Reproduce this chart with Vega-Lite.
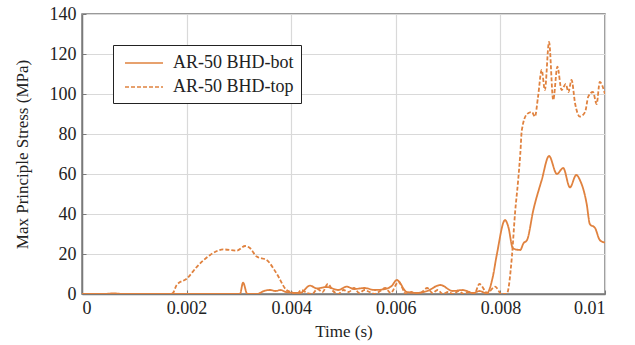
{
  "$schema": "https://vega.github.io/schema/vega-lite/v6.json",
  "width": 523,
  "height": 280,
  "autosize": "none",
  "padding": {"left": 82, "top": 14, "right": 30, "bottom": 51},
  "background": "white",
  "config": {
    "font": "Liberation Serif",
    "style": {"guide-label": {"font": "Liberation Serif"}, "guide-title": {"font": "Liberation Serif"}},
    "view": {"stroke": "#7a7a7a", "strokeWidth": 1.5},
    "axis": {
      "labelFont": "Liberation Serif", "titleFont": "Liberation Serif",
      "labelFontSize": 18, "titleFontSize": 17, "labelColor": "#222", "titleColor": "#222",
      "titleFontWeight": "normal", "gridColor": "#d9d9d9", "gridWidth": 1.2,
      "domainColor": "#7a7a7a", "domainWidth": 1.5, "tickColor": "#7a7a7a", "tickSize": -4, "tickWidth": 1
    },
    "legend": {
      "orient": "none", "legendX": 31, "legendY": 31, "title": null,
      "strokeColor": "#222", "fillColor": "white", "padding": 7,
      "labelFont": "Liberation Serif", "labelFontSize": 18, "labelColor": "#222",
      "symbolType": "M-1.9,0H1.9", "symbolSize": 400, "symbolStrokeWidth": 1.5, "symbolFillColor": "transparent",
      "symbolOffset": 13, "labelOffset": 18, "rowPadding": 4
    }
  },
  "data": {"values": [
    {"t": 0, "s": 0, "series": "AR-50 BHD-bot"},
    {"t": 0.0004, "s": 0, "series": "AR-50 BHD-bot"},
    {"t": 0.0006, "s": 0.3, "series": "AR-50 BHD-bot"},
    {"t": 0.0008, "s": 0, "series": "AR-50 BHD-bot"},
    {"t": 0.00302, "s": 0, "series": "AR-50 BHD-bot"},
    {"t": 0.00308, "s": 5.7, "series": "AR-50 BHD-bot"},
    {"t": 0.00316, "s": 0, "series": "AR-50 BHD-bot"},
    {"t": 0.00334, "s": 0, "series": "AR-50 BHD-bot"},
    {"t": 0.0035, "s": 1.7, "series": "AR-50 BHD-bot"},
    {"t": 0.0036, "s": 2, "series": "AR-50 BHD-bot"},
    {"t": 0.0037, "s": 1.5, "series": "AR-50 BHD-bot"},
    {"t": 0.0038, "s": 2, "series": "AR-50 BHD-bot"},
    {"t": 0.0039, "s": 1, "series": "AR-50 BHD-bot"},
    {"t": 0.00417, "s": 0.5, "series": "AR-50 BHD-bot"},
    {"t": 0.00436, "s": 4.2, "series": "AR-50 BHD-bot"},
    {"t": 0.00449, "s": 2.8, "series": "AR-50 BHD-bot"},
    {"t": 0.00468, "s": 3.5, "series": "AR-50 BHD-bot"},
    {"t": 0.0049, "s": 2, "series": "AR-50 BHD-bot"},
    {"t": 0.00506, "s": 3.7, "series": "AR-50 BHD-bot"},
    {"t": 0.0052, "s": 2.5, "series": "AR-50 BHD-bot"},
    {"t": 0.0054, "s": 3, "series": "AR-50 BHD-bot"},
    {"t": 0.0056, "s": 2, "series": "AR-50 BHD-bot"},
    {"t": 0.0058, "s": 2.5, "series": "AR-50 BHD-bot"},
    {"t": 0.00592, "s": 4, "series": "AR-50 BHD-bot"},
    {"t": 0.00602, "s": 7, "series": "AR-50 BHD-bot"},
    {"t": 0.00621, "s": 1, "series": "AR-50 BHD-bot"},
    {"t": 0.0064, "s": 0.5, "series": "AR-50 BHD-bot"},
    {"t": 0.0066, "s": 1.5, "series": "AR-50 BHD-bot"},
    {"t": 0.00685, "s": 4.5, "series": "AR-50 BHD-bot"},
    {"t": 0.00709, "s": 1.5, "series": "AR-50 BHD-bot"},
    {"t": 0.00728, "s": 2, "series": "AR-50 BHD-bot"},
    {"t": 0.00748, "s": 0.5, "series": "AR-50 BHD-bot"},
    {"t": 0.0076, "s": 1.5, "series": "AR-50 BHD-bot"},
    {"t": 0.00774, "s": 0.3, "series": "AR-50 BHD-bot"},
    {"t": 0.00785, "s": 8, "series": "AR-50 BHD-bot"},
    {"t": 0.00793, "s": 19.5, "series": "AR-50 BHD-bot"},
    {"t": 0.00809, "s": 37, "series": "AR-50 BHD-bot"},
    {"t": 0.00815, "s": 33.7, "series": "AR-50 BHD-bot"},
    {"t": 0.00824, "s": 22.8, "series": "AR-50 BHD-bot"},
    {"t": 0.00838, "s": 22, "series": "AR-50 BHD-bot"},
    {"t": 0.00844, "s": 25.3, "series": "AR-50 BHD-bot"},
    {"t": 0.00851, "s": 27, "series": "AR-50 BHD-bot"},
    {"t": 0.00863, "s": 42, "series": "AR-50 BHD-bot"},
    {"t": 0.00879, "s": 57, "series": "AR-50 BHD-bot"},
    {"t": 0.00893, "s": 69, "series": "AR-50 BHD-bot"},
    {"t": 0.00908, "s": 60, "series": "AR-50 BHD-bot"},
    {"t": 0.0092, "s": 63, "series": "AR-50 BHD-bot"},
    {"t": 0.00933, "s": 53.3, "series": "AR-50 BHD-bot"},
    {"t": 0.00945, "s": 59.5, "series": "AR-50 BHD-bot"},
    {"t": 0.00952, "s": 57, "series": "AR-50 BHD-bot"},
    {"t": 0.00965, "s": 45, "series": "AR-50 BHD-bot"},
    {"t": 0.00971, "s": 35, "series": "AR-50 BHD-bot"},
    {"t": 0.00981, "s": 33, "series": "AR-50 BHD-bot"},
    {"t": 0.0099, "s": 27, "series": "AR-50 BHD-bot"},
    {"t": 0.01, "s": 25.7, "series": "AR-50 BHD-bot"},
    {"t": 0, "s": 0, "series": "AR-50 BHD-top"},
    {"t": 0.0017, "s": 0, "series": "AR-50 BHD-top"},
    {"t": 0.00174, "s": 0.5, "series": "AR-50 BHD-top"},
    {"t": 0.00181, "s": 4.5, "series": "AR-50 BHD-top"},
    {"t": 0.00201, "s": 7.8, "series": "AR-50 BHD-top"},
    {"t": 0.0022, "s": 13.7, "series": "AR-50 BHD-top"},
    {"t": 0.00245, "s": 19.5, "series": "AR-50 BHD-top"},
    {"t": 0.0027, "s": 22.3, "series": "AR-50 BHD-top"},
    {"t": 0.00296, "s": 21.7, "series": "AR-50 BHD-top"},
    {"t": 0.00312, "s": 24, "series": "AR-50 BHD-top"},
    {"t": 0.00321, "s": 23, "series": "AR-50 BHD-top"},
    {"t": 0.00334, "s": 18.7, "series": "AR-50 BHD-top"},
    {"t": 0.00353, "s": 17, "series": "AR-50 BHD-top"},
    {"t": 0.00372, "s": 10.3, "series": "AR-50 BHD-top"},
    {"t": 0.00391, "s": 2, "series": "AR-50 BHD-top"},
    {"t": 0.004, "s": 1, "series": "AR-50 BHD-top"},
    {"t": 0.0041, "s": 0, "series": "AR-50 BHD-top"},
    {"t": 0.0042, "s": 2, "series": "AR-50 BHD-top"},
    {"t": 0.0043, "s": 0.5, "series": "AR-50 BHD-top"},
    {"t": 0.0044, "s": 0, "series": "AR-50 BHD-top"},
    {"t": 0.0045, "s": 2.5, "series": "AR-50 BHD-top"},
    {"t": 0.0046, "s": 1, "series": "AR-50 BHD-top"},
    {"t": 0.0047, "s": 5, "series": "AR-50 BHD-top"},
    {"t": 0.0048, "s": 1.5, "series": "AR-50 BHD-top"},
    {"t": 0.0049, "s": 0, "series": "AR-50 BHD-top"},
    {"t": 0.005, "s": 2, "series": "AR-50 BHD-top"},
    {"t": 0.0051, "s": 1, "series": "AR-50 BHD-top"},
    {"t": 0.0052, "s": 3, "series": "AR-50 BHD-top"},
    {"t": 0.0053, "s": 0.5, "series": "AR-50 BHD-top"},
    {"t": 0.0054, "s": 2, "series": "AR-50 BHD-top"},
    {"t": 0.0055, "s": 1, "series": "AR-50 BHD-top"},
    {"t": 0.0056, "s": 0, "series": "AR-50 BHD-top"},
    {"t": 0.0057, "s": 1.5, "series": "AR-50 BHD-top"},
    {"t": 0.0058, "s": 3, "series": "AR-50 BHD-top"},
    {"t": 0.0059, "s": 0.5, "series": "AR-50 BHD-top"},
    {"t": 0.00605, "s": 6, "series": "AR-50 BHD-top"},
    {"t": 0.0062, "s": 0, "series": "AR-50 BHD-top"},
    {"t": 0.0063, "s": 1, "series": "AR-50 BHD-top"},
    {"t": 0.0064, "s": 0, "series": "AR-50 BHD-top"},
    {"t": 0.0065, "s": 1, "series": "AR-50 BHD-top"},
    {"t": 0.0066, "s": 3, "series": "AR-50 BHD-top"},
    {"t": 0.0067, "s": 0.5, "series": "AR-50 BHD-top"},
    {"t": 0.0068, "s": 2, "series": "AR-50 BHD-top"},
    {"t": 0.0069, "s": 0, "series": "AR-50 BHD-top"},
    {"t": 0.007, "s": 1, "series": "AR-50 BHD-top"},
    {"t": 0.0071, "s": 0, "series": "AR-50 BHD-top"},
    {"t": 0.0072, "s": 1.5, "series": "AR-50 BHD-top"},
    {"t": 0.0073, "s": 0, "series": "AR-50 BHD-top"},
    {"t": 0.0074, "s": 1, "series": "AR-50 BHD-top"},
    {"t": 0.0075, "s": 0, "series": "AR-50 BHD-top"},
    {"t": 0.0076, "s": 5, "series": "AR-50 BHD-top"},
    {"t": 0.00775, "s": 0.5, "series": "AR-50 BHD-top"},
    {"t": 0.0079, "s": 3.7, "series": "AR-50 BHD-top"},
    {"t": 0.00802, "s": 0, "series": "AR-50 BHD-top"},
    {"t": 0.00812, "s": 0, "series": "AR-50 BHD-top"},
    {"t": 0.00822, "s": 18.7, "series": "AR-50 BHD-top"},
    {"t": 0.00828, "s": 40.5, "series": "AR-50 BHD-top"},
    {"t": 0.00834, "s": 57, "series": "AR-50 BHD-top"},
    {"t": 0.00838, "s": 70, "series": "AR-50 BHD-top"},
    {"t": 0.00841, "s": 82, "series": "AR-50 BHD-top"},
    {"t": 0.00851, "s": 90, "series": "AR-50 BHD-top"},
    {"t": 0.0086, "s": 91, "series": "AR-50 BHD-top"},
    {"t": 0.00866, "s": 88.7, "series": "AR-50 BHD-top"},
    {"t": 0.00872, "s": 98.7, "series": "AR-50 BHD-top"},
    {"t": 0.00879, "s": 112, "series": "AR-50 BHD-top"},
    {"t": 0.00885, "s": 102, "series": "AR-50 BHD-top"},
    {"t": 0.00893, "s": 126, "series": "AR-50 BHD-top"},
    {"t": 0.00901, "s": 97, "series": "AR-50 BHD-top"},
    {"t": 0.00909, "s": 113.7, "series": "AR-50 BHD-top"},
    {"t": 0.00917, "s": 102, "series": "AR-50 BHD-top"},
    {"t": 0.00925, "s": 105, "series": "AR-50 BHD-top"},
    {"t": 0.0093, "s": 101, "series": "AR-50 BHD-top"},
    {"t": 0.00936, "s": 107, "series": "AR-50 BHD-top"},
    {"t": 0.00943, "s": 95, "series": "AR-50 BHD-top"},
    {"t": 0.00952, "s": 88.7, "series": "AR-50 BHD-top"},
    {"t": 0.00962, "s": 91, "series": "AR-50 BHD-top"},
    {"t": 0.00968, "s": 98.7, "series": "AR-50 BHD-top"},
    {"t": 0.00977, "s": 101, "series": "AR-50 BHD-top"},
    {"t": 0.00984, "s": 95, "series": "AR-50 BHD-top"},
    {"t": 0.0099, "s": 106, "series": "AR-50 BHD-top"},
    {"t": 0.01, "s": 100, "series": "AR-50 BHD-top"}
  ]},
  "mark": {"type": "line", "interpolate": "monotone", "strokeWidth": 1.8, "clip": true},
  "encoding": {
    "x": {"field": "t", "type": "quantitative", "title": "Time (s)",
      "scale": {"domain": [0, 0.01], "nice": false},
      "axis": {"values": [0, 0.002, 0.004, 0.006, 0.008, 0.01], "format": "~g", "labelPadding": 9, "titlePadding": 6, "labelFont": "Liberation Serif"}},
    "y": {"field": "s", "type": "quantitative", "title": "Max Principle Stress (MPa)",
      "scale": {"domain": [0, 140], "nice": false},
      "axis": {"values": [0, 20, 40, 60, 80, 100, 120, 140], "labelPadding": 10, "titlePadding": 18, "labelFont": "Liberation Serif"}},
    "color": {"field": "series", "type": "nominal",
      "scale": {"range": ["#E0823F", "#E0823F"]},
      "legend": {"labelFont": "Liberation Serif"}},
    "strokeDash": {"field": "series", "type": "nominal",
      "scale": {"range": [[1, 0], [4, 2]]},
      "legend": {"labelFont": "Liberation Serif"}}
  }
}
